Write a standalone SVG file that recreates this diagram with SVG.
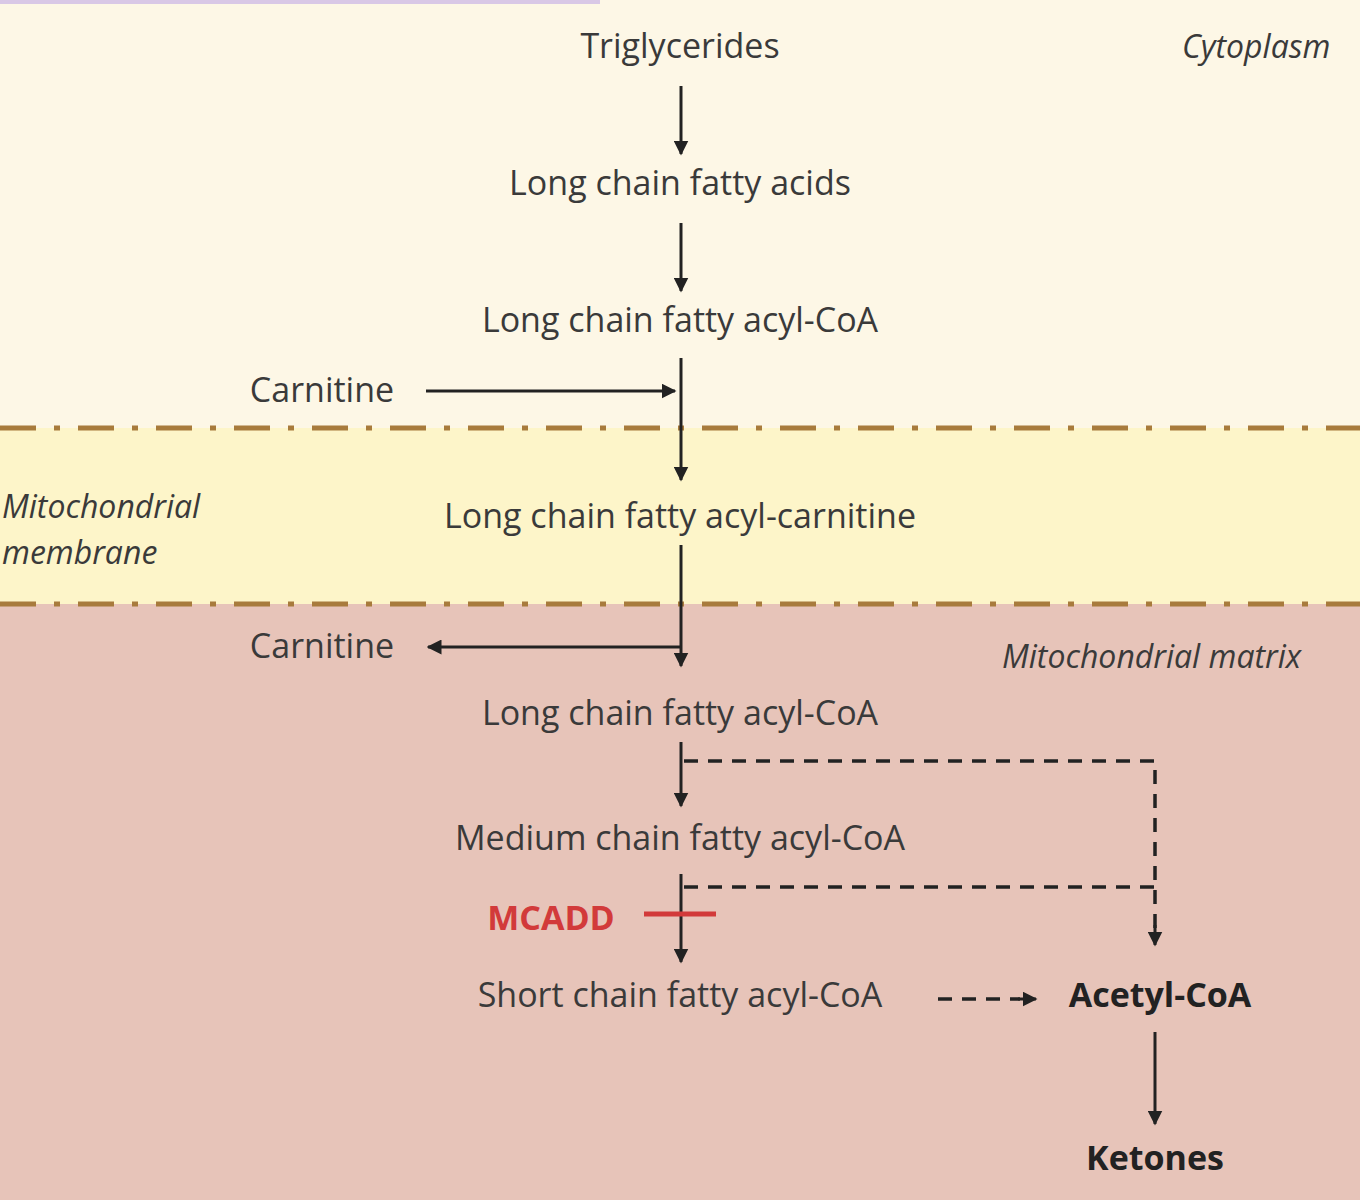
<svg xmlns="http://www.w3.org/2000/svg" width="1360" height="1200" viewBox="0 0 1360 1200">
<style>
text{font-family:"Open Sans","Noto Sans",sans-serif;font-size:34px;fill:#3a3a3a;text-anchor:middle}
.it{font-style:italic;text-anchor:start;font-size:32px}
.b{font-weight:bold;fill:#222}
.ln{stroke:#222;stroke-width:3;fill:none}
.ds{stroke:#222;stroke-width:3.5;fill:none;stroke-dasharray:14 10}
.mem{stroke:#a87b3c;stroke-width:5;fill:none;stroke-dasharray:36 18 6 18}
</style>
<defs><marker id="a" viewBox="0 0 10 10" refX="9" refY="5" markerWidth="5" markerHeight="5" orient="auto"><path d="M0,0L10,5L0,10z" fill="#222"/></marker></defs>
<rect x="0" y="0" width="1360" height="428" fill="#fdf7e6"/>
<rect x="0" y="428" width="1360" height="176" fill="#fdf5c9"/>
<rect x="0" y="604" width="1360" height="596" fill="#e7c4b9"/>
<rect x="0" y="0" width="600" height="4" fill="#d9c8e6"/>
<path class="mem" d="M0,428H1360M0,604H1360"/>
<g id="regions">
<text class="it" x="1182" y="58">Cytoplasm</text>
<text class="it" x="2" y="518">Mitochondrial</text>
<text class="it" x="2" y="564">membrane</text>
<text class="it" x="1002" y="668">Mitochondrial matrix</text>
</g>
<g id="n1"><text x="680" y="58">Triglycerides</text></g>
<g id="n2"><text x="680" y="195">Long chain fatty acids</text></g>
<g id="n3"><text x="680" y="332">Long chain fatty acyl-CoA</text></g>
<g id="n4"><text x="322" y="402">Carnitine</text></g>
<g id="n5"><text x="680" y="528">Long chain fatty acyl-carnitine</text></g>
<g id="n6"><text x="322" y="658">Carnitine</text></g>
<g id="n7"><text x="680" y="725">Long chain fatty acyl-CoA</text></g>
<g id="n8"><text x="680" y="850">Medium chain fatty acyl-CoA</text></g>
<g id="n9"><text x="551" y="930" class="b" style="fill:#d23a3a">MCADD</text></g>
<g id="n10"><text x="680" y="1007">Short chain fatty acyl-CoA</text></g>
<g id="n11"><text x="1160" y="1007" class="b">Acetyl-CoA</text></g>
<g id="n12"><text x="1155" y="1170" class="b">Ketones</text></g>
<g id="connectors">
<path class="ln" marker-end="url(#a)" d="M681,86V154"/>
<path class="ln" marker-end="url(#a)" d="M681,223V291"/>
<path class="ln" marker-end="url(#a)" d="M681,358V480"/>
<path class="ln" marker-end="url(#a)" d="M426,391H675"/>
<path class="ln" marker-end="url(#a)" d="M681,545V666"/>
<path class="ln" marker-end="url(#a)" d="M681,647H428"/>
<path class="ln" marker-end="url(#a)" d="M681,742V806"/>
<path class="ln" marker-end="url(#a)" d="M681,874V962"/>
<path class="ds" d="M684,761H1155V940"/>
<path class="ds" d="M684,887H1155"/>
<path class="ln" marker-end="url(#a)" d="M1155,925V945"/>
<path class="ds" d="M938,999H1020"/>
<path class="ln" marker-end="url(#a)" d="M1018,999H1036"/>
<path class="ln" marker-end="url(#a)" d="M1155,1032V1124"/>
<path stroke="#d23a3a" stroke-width="5" d="M644,914H716"/>
</g>
</svg>
